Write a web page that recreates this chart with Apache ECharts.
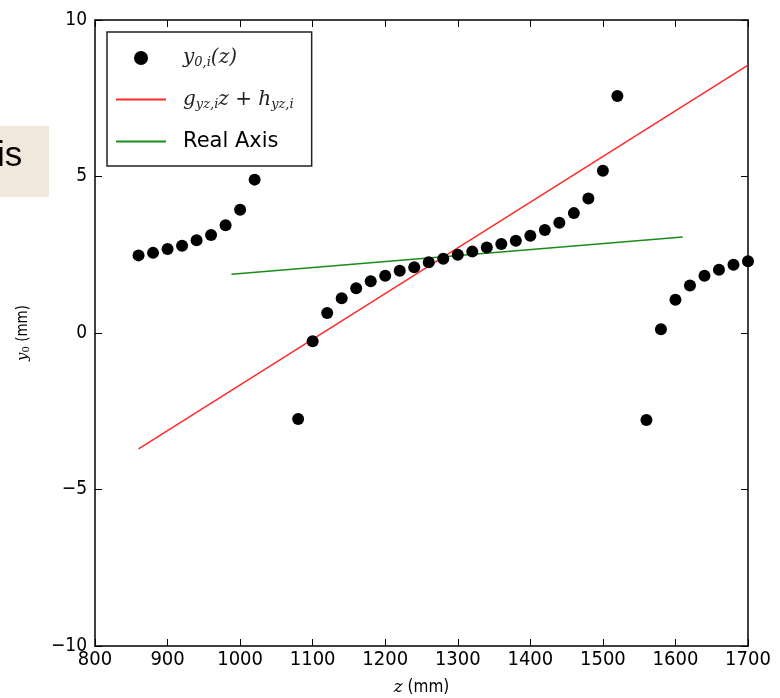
<!DOCTYPE html>
<html>

<head>
  <meta charset="utf-8">
  <style>
    html, body {
      margin: 0;
      padding: 0;
      background: #fff;
    }
  </style>
</head>

<body>
  <div id="main" style="width: 780px; height: 698px"></div>
</body>

<script src="https://cdn.jsdelivr.net/npm/echarts@6/dist/echarts.min.js"></script>
<script>
  // measured points y_0,i(z)
  var zPoints = [860, 880, 900, 920, 940, 960, 980, 1000, 1020,
    1080, 1100, 1120, 1140, 1160, 1180, 1200, 1220, 1240, 1260, 1280, 1300,
    1320, 1340, 1360, 1380, 1400, 1420, 1440, 1460, 1480, 1500, 1520,
    1560, 1580, 1600, 1620, 1640, 1660, 1680, 1700];
  var yPoints = [2.48, 2.56, 2.68, 2.79, 2.96, 3.13, 3.44, 3.94, 4.90,
    -2.75, -0.26, 0.64, 1.11, 1.43, 1.65, 1.83, 1.99, 2.10, 2.26, 2.37, 2.50,
    2.60, 2.73, 2.84, 2.95, 3.11, 3.29, 3.52, 3.83, 4.30, 5.18, 7.57,
    -2.78, 0.12, 1.06, 1.52, 1.83, 2.02, 2.18, 2.29];

  // fitted line g z + h
  var fitZ = [860, 1700];
  var fitY = [-3.70, 8.56];

  // real axis
  var realZ = [988, 1610];
  var realY = [1.88, 3.07];

  var xTicks = [800, 900, 1000, 1100, 1200, 1300, 1400, 1500, 1600, 1700];
  var yTicks = [-10, -5, 0, 5, 10];

  function pairs(xs, ys) {
    return xs.map(function(x, i) {
      return [x, ys[i]];
    });
  }

  var chart = echarts.init(document.getElementById('main'));
  var tickFont = 'DejaVu Sans Condensed, DejaVu Sans, sans-serif';
  var mathFont = 'DejaVu Serif, Liberation Serif, serif';

  function frameAxis(extra) {
    var base = {
      axisLine: { show: true, onZero: false, lineStyle: { color: '#000', width: 1.5 } },
      axisTick: { show: true, inside: true, length: 7, lineStyle: { color: '#000', width: 1 } },
      splitLine: { show: false }
    };
    return Object.assign(base, extra);
  }

  chart.setOption({
    animation: false,
    graphic: [{
      type: 'rect',
      left: 0,
      top: 126,
      shape: { width: 49, height: 71 },
      style: { fill: '#f0e8dc' }
    }, {
      type: 'text',
      left: -3,
      top: 139,
      style: { text: 'is', font: '35px Liberation Sans, Arial, sans-serif', fill: '#000' }
    }],
    grid: { left: 95, right: 32, top: 20, bottom: 52, outerBoundsMode: 'none', containLabel: false },
    legend: {
      orient: 'vertical',
      left: 107,
      top: 32,
      padding: [16, 18, 14, 8],
      itemGap: 20,
      itemWidth: 50,
      itemHeight: 14,
      borderColor: '#222',
      borderWidth: 1.5,
      backgroundColor: '#fff',
      data: [
        { name: 'y0', icon: 'circle' },
        { name: 'fit', itemStyle: { opacity: 0 } },
        { name: 'real', itemStyle: { opacity: 0 } }
      ],
      formatter: function(name) {
        if (name === 'y0') return '{m|y}{s|0,i}{m|(z)}';
        if (name === 'fit') return '{m|g}{s|yz,i}{m|z + h}{s|yz,i}';
        return '{t|Real Axis}';
      },
      textStyle: {
        padding: [0, 0, 0, 12],
        rich: {
          m: { fontFamily: mathFont, fontStyle: 'italic', fontSize: 20, color: '#222' },
          s: { fontFamily: mathFont, fontStyle: 'italic', fontSize: 13, color: '#222', verticalAlign: 'bottom', padding: [10, 0, 0, 0] },
          t: { fontFamily: 'DejaVu Sans, sans-serif', fontSize: 21, color: '#000' }
        }
      }
    },
    xAxis: [frameAxis({
      type: 'value',
      min: 800,
      max: 1700,
      interval: 100,
      name: '{i|z} (mm)',
      nameLocation: 'middle',
      nameGap: 33,
      nameTextStyle: {
        fontFamily: tickFont, fontSize: 17, color: '#000',
        rich: { i: { fontFamily: mathFont, fontStyle: 'italic', fontSize: 17, color: '#000' } }
      },
      axisLabel: {
        fontFamily: tickFont, fontSize: 20, color: '#000', margin: 4,
        formatter: function(v) { return xTicks.indexOf(v) >= 0 ? String(v) : ''; }
      }
    }), frameAxis({
      type: 'value',
      position: 'top',
      min: 800,
      max: 1700,
      interval: 100,
      axisLabel: { show: false }
    })],
    yAxis: [frameAxis({
      type: 'value',
      min: -10,
      max: 10,
      interval: 5,
      name: '{i|y}{s|0} (mm)',
      nameLocation: 'middle',
      nameGap: 64,
      nameTextStyle: {
        fontFamily: tickFont, fontSize: 15, color: '#000',
        rich: {
          i: { fontFamily: mathFont, fontStyle: 'italic', fontSize: 15, color: '#000' },
          s: { fontFamily: mathFont, fontSize: 10, color: '#000', verticalAlign: 'bottom', padding: [6, 0, 0, 0] }
        }
      },
      axisLabel: {
        fontFamily: tickFont, fontSize: 19, color: '#000', margin: 8,
        formatter: function(v) {
          return yTicks.indexOf(v) >= 0 ? String(v).replace('-', '\u2212') : '';
        }
      }
    }), frameAxis({
      type: 'value',
      position: 'right',
      min: -10,
      max: 10,
      interval: 5,
      axisLabel: { show: false }
    })],
    series: [{
      name: 'y0',
      type: 'scatter',
      symbol: 'circle',
      symbolSize: 12,
      itemStyle: { color: '#000', opacity: 1 },
      data: pairs(zPoints, yPoints),
      z: 3
    }, {
      name: 'fit',
      type: 'line',
      symbol: 'none',
      lineStyle: { color: '#ff2a2a', width: 1.5 },
      itemStyle: { color: '#ff2a2a' },
      data: pairs(fitZ, fitY)
    }, {
      name: 'real',
      type: 'line',
      symbol: 'none',
      lineStyle: { color: '#1a8c1a', width: 1.5 },
      itemStyle: { color: '#1a8c1a' },
      data: pairs(realZ, realY)
    }]
  });
</script>
</html>
